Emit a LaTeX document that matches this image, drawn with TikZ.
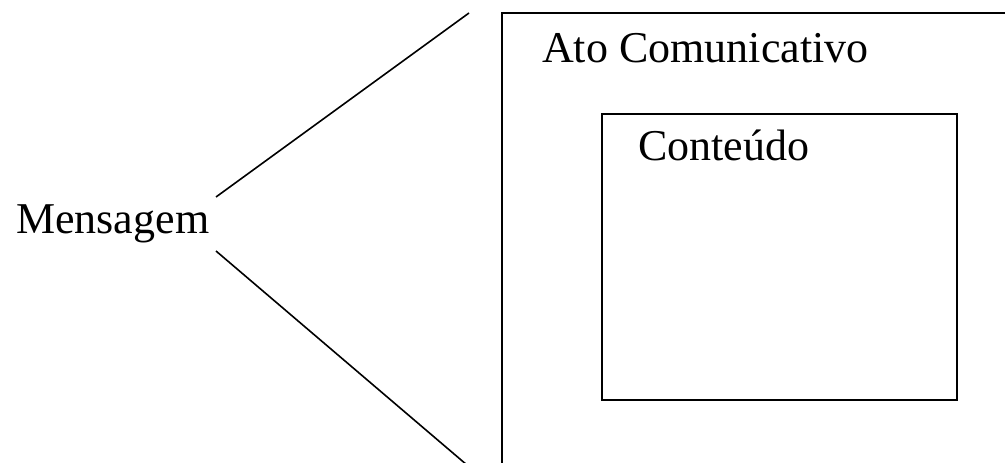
\documentclass[tikz,border=0pt]{standalone}
\usepackage{fontspec}
\setmainfont{Liberation Serif}
\begin{document}
\begin{tikzpicture}[x=1pt,y=-1pt,
  lbl/.style={anchor=base west,inner sep=0pt,font=\fontsize{44}{53}\selectfont},
  ln/.style={line width=1.6pt,line cap=butt}]
\path[use as bounding box] (0,0) rectangle (1005,463);
\clip (0,0) rectangle (1005,463);
\node[lbl] (msg) at (16,233) {Mensagem};
\node[lbl] (ato) at (542,62) {Ato Comunicativo};
\node[lbl] (cont) at (638,160) {Conteúdo};
\draw[ln] (502,13) rectangle (1020,480);
\draw[ln] (602,114) rectangle (957,400);
\coordinate (up1) at (216,197);
\coordinate (up2) at (469,13);
\coordinate (lo1) at (216,251);
\coordinate (lo2) at (467,465);
\draw[ln] (up1) -- (up2);
\draw[ln] (lo1) -- (lo2);
\end{tikzpicture}
\end{document}
